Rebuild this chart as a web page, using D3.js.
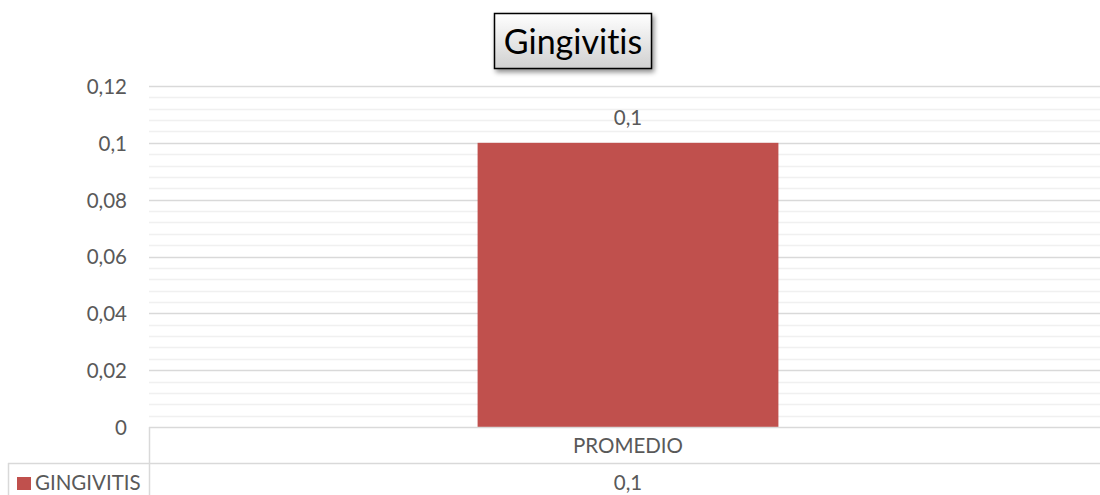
<!DOCTYPE html>
<html>
<head>
<meta charset="utf-8">
<script src="https://cdn.jsdelivr.net/npm/d3@7"></script>
<style>
  html, body { margin: 0; padding: 0; background: #fff; }
  svg { display: block; }
  svg text { font-variant-ligatures: none; font-feature-settings: "liga" 0, "clig" 0; }
</style>
</head>
<body>
<svg id="chart" width="1100" height="495"></svg>
<script>
// Chart data
const title = "Gingivitis";
const categories = ["PROMEDIO"];
const seriesName = "GINGIVITIS";
const seriesValues = [0.1];
const yTicks = [0, 0.02, 0.04, 0.06, 0.08, 0.1, 0.12];

const W = 1100, H = 495;
const margin = { left: 149, right: -7, top: 86, bottom: 68 };
const plotW = W - margin.left - margin.right;
const plotH = H - margin.top - margin.bottom;
const fontFam = "Lato, 'Open Sans', 'Liberation Sans', sans-serif";
const labelSize = 20.5;
const textCol = "#595959";
const barCol = "#c0504d";
const fmt = v => String(+v.toFixed(4)).replace(".", ",");

const svg = d3.select("#chart");

const defs = svg.append("defs");
const grad = defs.append("linearGradient").attr("id", "titleGrad")
  .attr("x1", 0).attr("y1", 0).attr("x2", 0).attr("y2", 1);
grad.append("stop").attr("offset", "0%").attr("stop-color", "#ffffff");
grad.append("stop").attr("offset", "100%").attr("stop-color", "#d0d0d0");
const shadow = defs.append("filter").attr("id", "titleShadow")
  .attr("x", "-20%").attr("y", "-20%").attr("width", "140%").attr("height", "160%");
shadow.append("feDropShadow").attr("dx", 2).attr("dy", 3).attr("stdDeviation", 2.5)
  .attr("flood-color", "#000").attr("flood-opacity", 0.45);

const y = d3.scaleLinear().domain([0, 0.12]).range([margin.top + plotH, margin.top]);
const x = d3.scaleBand().domain(categories)
  .range([margin.left, margin.left + plotW]).paddingInner(0.686).paddingOuter(0.343);

// minor gridlines
const minor = d3.range(0, 0.12 + 1e-9, 0.004).filter(v => Math.abs((v / 0.02) - Math.round(v / 0.02)) > 1e-6);
svg.append("g").selectAll("line").data(minor).join("line")
  .attr("x1", margin.left).attr("x2", W)
  .attr("y1", d => Math.round(y(d)) + 0.5).attr("y2", d => Math.round(y(d)) + 0.5)
  .attr("stroke", "#f0f0f0").attr("stroke-width", 1.5);

// major gridlines
svg.append("g").selectAll("line").data(yTicks.filter(v => v > 0)).join("line")
  .attr("x1", margin.left).attr("x2", W)
  .attr("y1", d => Math.round(y(d)) + 0.5).attr("y2", d => Math.round(y(d)) + 0.5)
  .attr("stroke", "#d9d9d9").attr("stroke-width", 1.5);

// y axis labels
const yAxis = d3.axisLeft(y).tickValues(yTicks).tickFormat(fmt).tickSize(0).tickPadding(0);
const gy = svg.append("g").attr("transform", `translate(127,0)`).call(yAxis);
gy.select(".domain").remove();
gy.selectAll("text").attr("fill", textCol).attr("font-family", fontFam).attr("font-size", labelSize)
  .attr("dy", "0.36em");

// bars
svg.append("g").selectAll("rect").data(seriesValues).join("rect")
  .attr("x", (d, i) => x(categories[i]))
  .attr("width", x.bandwidth())
  .attr("y", d => y(d))
  .attr("height", d => y(0) - y(d))
  .attr("fill", barCol);

// value labels
svg.append("g").selectAll("text").data(seriesValues).join("text")
  .attr("x", (d, i) => x(categories[i]) + x.bandwidth() / 2)
  .attr("y", d => y(d) - 25).attr("dy", "0.36em")
  .attr("text-anchor", "middle").attr("fill", textCol)
  .attr("font-family", fontFam).attr("font-size", labelSize)
  .text(fmt);

// data table with category axis
const tableRow = 463;
const tableLeft = 8;
const grid = svg.append("g").attr("stroke", "#d9d9d9").attr("stroke-width", 1.5);
grid.append("line").attr("x1", margin.left).attr("x2", W).attr("y1", y(0) + 0.5).attr("y2", y(0) + 0.5);
grid.append("line").attr("x1", tableLeft).attr("x2", W).attr("y1", tableRow + 0.5).attr("y2", tableRow + 0.5);
grid.append("line").attr("x1", margin.left + 0.5).attr("x2", margin.left + 0.5).attr("y1", y(0)).attr("y2", H);
grid.append("line").attr("x1", tableLeft + 0.5).attr("x2", tableLeft + 0.5).attr("y1", tableRow).attr("y2", H);

const xAxis = d3.axisBottom(x).tickSize(0).tickPadding(0);
const gx = svg.append("g").attr("transform", `translate(0,${y(0) + 19})`).call(xAxis);
gx.select(".domain").remove();
gx.selectAll("text").attr("fill", textCol).attr("font-family", fontFam).attr("font-size", labelSize)
  .attr("dy", "0.36em");

svg.append("g").selectAll("text").data(seriesValues).join("text")
  .attr("x", (d, i) => x(categories[i]) + x.bandwidth() / 2)
  .attr("y", tableRow + 20).attr("dy", "0.36em")
  .attr("text-anchor", "middle").attr("fill", textCol)
  .attr("font-family", fontFam).attr("font-size", labelSize)
  .text(fmt);

// legend key inside the table row header
svg.append("rect").attr("x", 17).attr("y", 477).attr("width", 14).attr("height", 13).attr("fill", barCol);
svg.append("text").attr("x", 35).attr("y", tableRow + 20).attr("dy", "0.36em")
  .attr("fill", textCol).attr("font-family", fontFam).attr("font-size", labelSize)
  .text(seriesName);

// title box
const tb = svg.append("g");
tb.append("rect").attr("x", 494.5).attr("y", 13.5).attr("width", 157).attr("height", 55)
  .attr("fill", "url(#titleGrad)").attr("stroke", "#000").attr("stroke-width", 1.5)
  .attr("filter", "url(#titleShadow)");
tb.append("text").attr("x", 573).attr("y", 42).attr("dy", "0.36em")
  .attr("text-anchor", "middle").attr("fill", "#000")
  .attr("font-family", fontFam).attr("font-size", 34)
  .text(title);
</script>
</body>
</html>
